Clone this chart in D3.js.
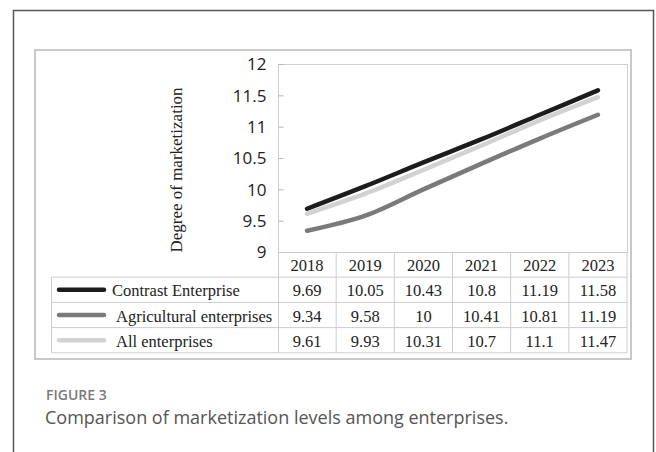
<!DOCTYPE html>
<html>
<head>
<meta charset="utf-8">
<script src="https://cdn.jsdelivr.net/npm/d3@7"></script>
<style>
body { margin: 0; background: #fff; }
</style>
</head>
<body>
<div id="chart"></div>
<script>
// data
var years = ["2018", "2019", "2020", "2021", "2022", "2023"];
var contrast = [9.69, 10.05, 10.43, 10.8, 11.19, 11.58];
var agricultural = [9.34, 9.58, 10, 10.41, 10.81, 11.19];
var allEnterprises = [9.61, 9.93, 10.31, 10.7, 11.1, 11.47];
var seriesNames = ["Contrast Enterprise", "Agricultural enterprises", "All enterprises"];
var seriesColors = ["#1c1c1c", "#7a7a7a", "#d2d2d2"];
var yTicks = [9, 9.5, 10, 10.5, 11, 11.5, 12];
var yTitle = "Degree of marketization";
var figLabel = "FIGURE 3";
var figCaption = "Comparison of marketization levels among enterprises.";

function draw_chart()
{
    var series = [contrast, agricultural, allEnterprises];

    var svg = d3.select("#chart").append("svg")
        .attr("width", 656)
        .attr("height", 452);

    // outer frame of the page and the light box round the picture
    svg.append("rect")
        .attr("x", 13.5).attr("y", 10.5)
        .attr("width", 640).attr("height", 470)
        .attr("fill", "none").attr("stroke", "#555").attr("stroke-width", 1.5);
    svg.append("rect")
        .attr("x", 35).attr("y", 50)
        .attr("width", 596).attr("height", 309)
        .attr("fill", "none").attr("stroke", "#c8c8c8").attr("stroke-width", 2);

    var left = 278, right = 627, top = 64, bottom = 252;
    var rowH = 25.2;
    var tableLeft = 51.5;

    var xScale = d3.scaleBand()
        .domain(years)
        .range([left, right]);

    var yScale = d3.scaleLinear()
        .domain([9, 12])
        .range([bottom, top]);

    // plot area border
    svg.append("rect")
        .attr("x", left + 0.5).attr("y", top + 0.5)
        .attr("width", right - left).attr("height", bottom - top)
        .attr("fill", "none").attr("stroke", "#cfcfcf");

    // y axis, ticks point inward
    var yAxis = svg.append("g")
        .attr("transform", "translate(" + (left + 0.5) + ",0)")
        .call(d3.axisRight(yScale).tickValues(yTicks).tickSize(5).tickFormat(d3.format("")));
    yAxis.select(".domain").remove();
    yAxis.selectAll("line").attr("stroke", "#b5b5b5");
    yAxis.selectAll("text")
        .attr("x", -12)
        .attr("text-anchor", "end")
        .attr("dy", "0.35em")
        .style("font-family", "'Open Sans', sans-serif")
        .style("font-size", "17px")
        .attr("fill", "#222");

    svg.append("text")
        .attr("transform", "translate(182,170) rotate(-90)")
        .attr("text-anchor", "middle")
        .style("font-family", "'Liberation Serif', 'Times New Roman', serif")
        .style("font-size", "17px")
        .attr("fill", "#222")
        .text(yTitle);

    // table grid
    var grid = svg.append("g").attr("stroke", "#cdcdcd").attr("fill", "none");
    grid.append("line").attr("x1", left).attr("x2", right).attr("y1", bottom + 0.5).attr("y2", bottom + 0.5);
    for (var r = 1; r <= 4; r++) {
        var yy = bottom + r * rowH;
        grid.append("line").attr("x1", tableLeft).attr("x2", right).attr("y1", yy).attr("y2", yy);
    }
    grid.append("line").attr("x1", tableLeft).attr("x2", tableLeft)
        .attr("y1", bottom + rowH).attr("y2", bottom + 4 * rowH);
    years.forEach(function(y) {
        var xx = xScale(y) + xScale.bandwidth();
        grid.append("line").attr("x1", xx).attr("x2", xx)
            .attr("y1", bottom).attr("y2", bottom + 4 * rowH);
    });
    grid.append("line").attr("x1", left + 0.5).attr("x2", left + 0.5)
        .attr("y1", bottom).attr("y2", bottom + 4 * rowH);

    var serif = "'Liberation Serif', 'Times New Roman', serif";

    // header row with the years
    svg.append("g").selectAll("text")
        .data(years)
        .join("text")
        .attr("x", function(d) { return xScale(d) + xScale.bandwidth() / 2; })
        .attr("y", bottom + rowH / 2 + 1)
        .attr("dominant-baseline", "central")
        .attr("text-anchor", "middle")
        .style("font-family", serif).style("font-size", "16.5px")
        .attr("fill", "#222")
        .text(function(d) { return d; });

    // one table row per series, with legend swatch
    var textX = [112, 116, 116];
    series.forEach(function(vals, s) {
        var cy = bottom + rowH * (s + 1) + rowH / 2;
        svg.append("line")
            .attr("x1", 59).attr("x2", 104)
            .attr("y1", cy).attr("y2", cy)
            .attr("stroke", seriesColors[s]).attr("stroke-width", 4.5)
            .attr("stroke-linecap", "round");
        svg.append("text")
            .attr("x", textX[s]).attr("y", cy + 1)
            .attr("dominant-baseline", "central")
            .style("font-family", serif).style("font-size", "16.5px")
            .attr("fill", "#222")
            .text(seriesNames[s]);
        svg.append("g").selectAll("text")
            .data(vals)
            .join("text")
            .attr("x", function(d, i) { return xScale(years[i]) + xScale.bandwidth() / 2; })
            .attr("y", cy + 1)
            .attr("dominant-baseline", "central")
            .attr("text-anchor", "middle")
            .style("font-family", serif).style("font-size", "16.5px")
            .attr("fill", "#222")
            .text(function(d) { return d; });
    });

    // smoothed lines, light one first so the dark ones sit on top
    var line = d3.line()
        .x(function(d, i) { return xScale(years[i]) + xScale.bandwidth() / 2; })
        .y(function(d) { return yScale(d); })
        .curve(d3.curveCatmullRom.alpha(0.5));

    [2, 1, 0].forEach(function(s) {
        svg.append("path")
            .datum(series[s])
            .attr("fill", "none")
            .attr("stroke", seriesColors[s])
            .attr("stroke-width", 4.5)
            .attr("stroke-linecap", "round")
            .attr("d", line);
    });

    // caption under the figure
    svg.append("text")
        .attr("x", 46).attr("y", 400)
        .style("font-family", "'Open Sans', sans-serif")
        .style("font-size", "14px").style("font-weight", 600)
        .attr("fill", "#7a7a7a")
        .text(figLabel);
    svg.append("text")
        .attr("x", 45).attr("y", 424)
        .style("font-family", "'Open Sans', sans-serif")
        .style("font-size", "18px")
        .attr("fill", "#555")
        .text(figCaption);
}

draw_chart();
</script>
</body>
</html>
